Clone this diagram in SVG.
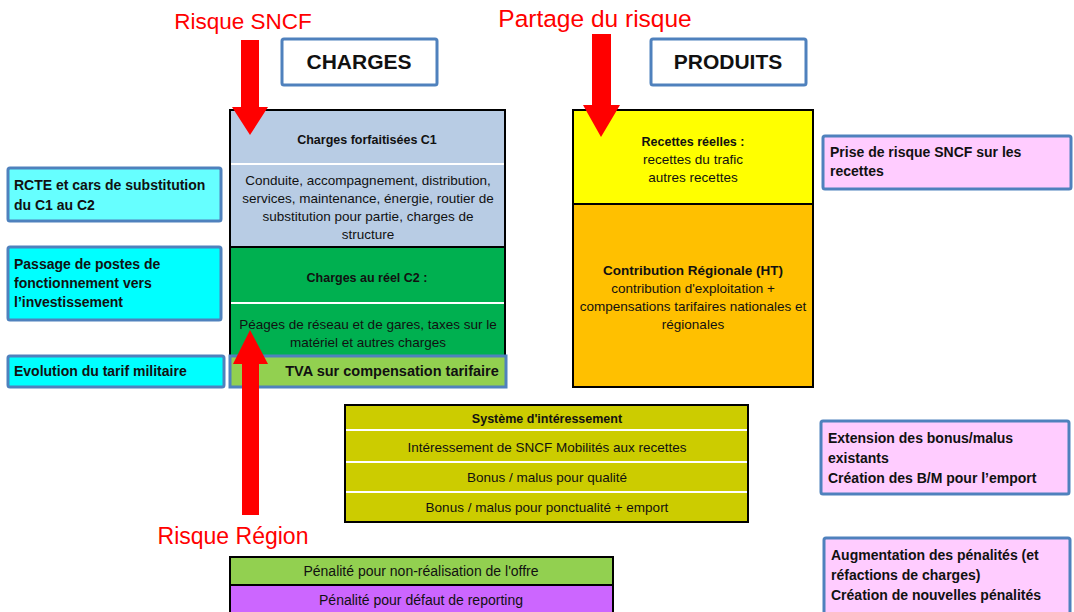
<svg xmlns="http://www.w3.org/2000/svg" width="1074" height="612" viewBox="0 0 1074 612">
<style>
text{font-family:"Liberation Sans",Arial,sans-serif;fill:#111}
.red{fill:#FF0000;font-size:23px}
.title{font-weight:bold;font-size:21px;text-anchor:middle}
.tbox{fill:#fff;stroke:#4F81BD;stroke-width:3}
.side{stroke:#4F81BD;stroke-width:3}
.lb{font-weight:bold;font-size:14px}
.b{font-weight:bold;font-size:12.5px;text-anchor:middle}
.n{font-size:13.5px;text-anchor:middle}
.s{font-size:13.5px;text-anchor:middle}
.p{font-size:14px;text-anchor:middle}
.col{fill:none;stroke:#000;stroke-width:2}
.wd{stroke:#fff;stroke-width:2}
.bd{stroke:#000;stroke-width:2}
.arrow{fill:#FF0000}
</style>
<rect width="1074" height="612" fill="#fff"/>

<g id="label-risque-sncf"><text class="red" x="243" y="29" text-anchor="middle" style="font-size:22.5px">Risque SNCF</text></g>
<g id="label-partage"><text class="red" x="595" y="27" text-anchor="middle" style="font-size:24.5px">Partage du risque</text></g>
<g id="label-risque-region"><text class="red" x="233" y="544" text-anchor="middle">Risque Région</text></g>

<g id="charges-title"><rect class="tbox" x="282" y="39" width="155" height="46" rx="2"/><text class="title" x="359" y="69">CHARGES</text></g>
<g id="produits-title"><rect class="tbox" x="651" y="39" width="155" height="46" rx="2"/><text class="title" x="728" y="69">PRODUITS</text></g>

<g id="charges-c1">
<rect x="230" y="110" width="275" height="137" fill="#B8CCE4"/>
<line class="wd" x1="231" y1="164" x2="504" y2="164"/>
<text class="b" x="367" y="143.5">Charges forfaitisées C1</text>
<text class="n" x="368" y="185">Conduite, accompagnement, distribution,</text>
<text class="n" x="368" y="203">services, maintenance, énergie, routier de</text>
<text class="n" x="368" y="221">substitution pour partie, charges de</text>
<text class="n" x="368" y="239">structure</text>
</g>
<g id="charges-c2">
<rect x="230" y="247" width="275" height="109" fill="#00B050"/>
<line class="wd" x1="231" y1="303" x2="504" y2="303"/>
<text class="b" x="367" y="281.5">Charges au réel C2 :</text>
<text class="n" x="368" y="329">Péages de réseau et de gares, taxes sur le</text>
<text class="n" x="368" y="347">matériel et autres charges</text>
</g>
<g id="charges-frame"><line class="bd" x1="230" y1="247" x2="505" y2="247"/><path class="col" d="M230,356 V110 H505 V356"/></g>
<g id="tva"><rect class="side" x="230" y="356" width="276" height="31" fill="#92D050"/><text x="392" y="376" font-weight="bold" font-size="14.5" text-anchor="middle">TVA sur compensation tarifaire</text></g>

<g id="rcte"><rect class="side" x="8" y="168" width="213" height="53" rx="2" fill="#66FFFF"/><text class="lb" x="14" y="190">RCTE et cars de substitution</text><text class="lb" x="14" y="210">du C1 au C2</text></g>
<g id="passage"><rect class="side" x="8" y="247" width="213" height="73" rx="2" fill="#00FFFF"/><text class="lb" x="14" y="269">Passage de postes de</text><text class="lb" x="14" y="288">fonctionnement vers</text><text class="lb" x="14" y="307">l’investissement</text></g>
<g id="militaire"><rect class="side" x="8" y="356" width="216" height="31" rx="2" fill="#00FFFF"/><text class="lb" x="14" y="376">Evolution du tarif militaire</text></g>

<g id="recettes">
<rect x="573" y="110" width="240" height="94" fill="#FFFF00"/>
<text class="b" x="693" y="145.5">Recettes réelles :</text>
<text class="n" x="693" y="164">recettes du trafic</text>
<text class="n" x="693" y="182">autres recettes</text>
</g>
<g id="contribution">
<rect x="573" y="204" width="240" height="183" fill="#FFC000"/>
<text x="693" y="275" font-weight="bold" font-size="13.5" text-anchor="middle">Contribution Régionale (HT)</text>
<text class="n" x="693" y="293">contribution d'exploitation +</text>
<text class="n" x="693" y="311">compensations tarifaires nationales et</text>
<text class="n" x="693" y="329">régionales</text>
</g>
<g id="produits-frame"><line class="bd" x1="573" y1="204" x2="813" y2="204"/><rect class="col" x="573" y="110" width="240" height="277"/></g>

<g id="prise-risque"><rect class="side" x="823" y="136" width="248" height="53" rx="2" fill="#FFCCFF"/><text class="lb" x="830" y="157">Prise de risque SNCF sur les</text><text class="lb" x="830" y="176">recettes</text></g>
<g id="extension"><rect class="side" x="821" y="421" width="248" height="73" rx="2" fill="#FFCCFF"/><text class="lb" x="828" y="443">Extension des bonus/malus</text><text class="lb" x="828" y="463">existants</text><text class="lb" x="828" y="483">Création des B/M pour l’emport</text></g>
<g id="augmentation"><rect class="side" x="824" y="538" width="246" height="80" rx="2" fill="#FFCCFF"/><text class="lb" x="831" y="560">Augmentation des pénalités (et</text><text class="lb" x="831" y="580">réfactions de charges)</text><text class="lb" x="831" y="600">Création de nouvelles pénalités</text></g>

<g id="interessement">
<rect x="345" y="405" width="403" height="117" fill="#CCCC00" stroke="#000" stroke-width="2"/>
<line class="wd" x1="346" y1="430" x2="747" y2="430"/>
<line class="wd" x1="346" y1="462" x2="747" y2="462"/>
<line class="wd" x1="346" y1="492" x2="747" y2="492"/>
<text class="b" x="547" y="422.5">Système d'intéressement</text>
<text class="s" x="547" y="451.5">Intéressement de SNCF Mobilités aux recettes</text>
<text class="s" x="547" y="481.5">Bonus / malus pour qualité</text>
<text class="s" x="547" y="511.5">Bonus / malus pour ponctualité + emport</text>
</g>

<g id="penalite-offre"><rect x="230" y="557" width="383" height="28" fill="#92D050" stroke="#000" stroke-width="2"/><text class="p" x="421" y="576">Pénalité pour non-réalisation de l'offre</text></g>
<g id="penalite-reporting"><rect x="230" y="585" width="383" height="30" fill="#CC66FF" stroke="#000" stroke-width="2"/><text class="p" x="421" y="605">Pénalité pour défaut de reporting</text></g>

<g id="connectors">
<polygon class="arrow" points="241,40 259,40 259,107 268,107 250,135 232,107 241,107"/>
<polygon class="arrow" points="592,34 611,34 611,105 620,105 601,137 583,105 592,105"/>
<polygon class="arrow" points="242,515 259,515 259,364 268,364 250,330 233,364 242,364"/>
</g>
</svg>
